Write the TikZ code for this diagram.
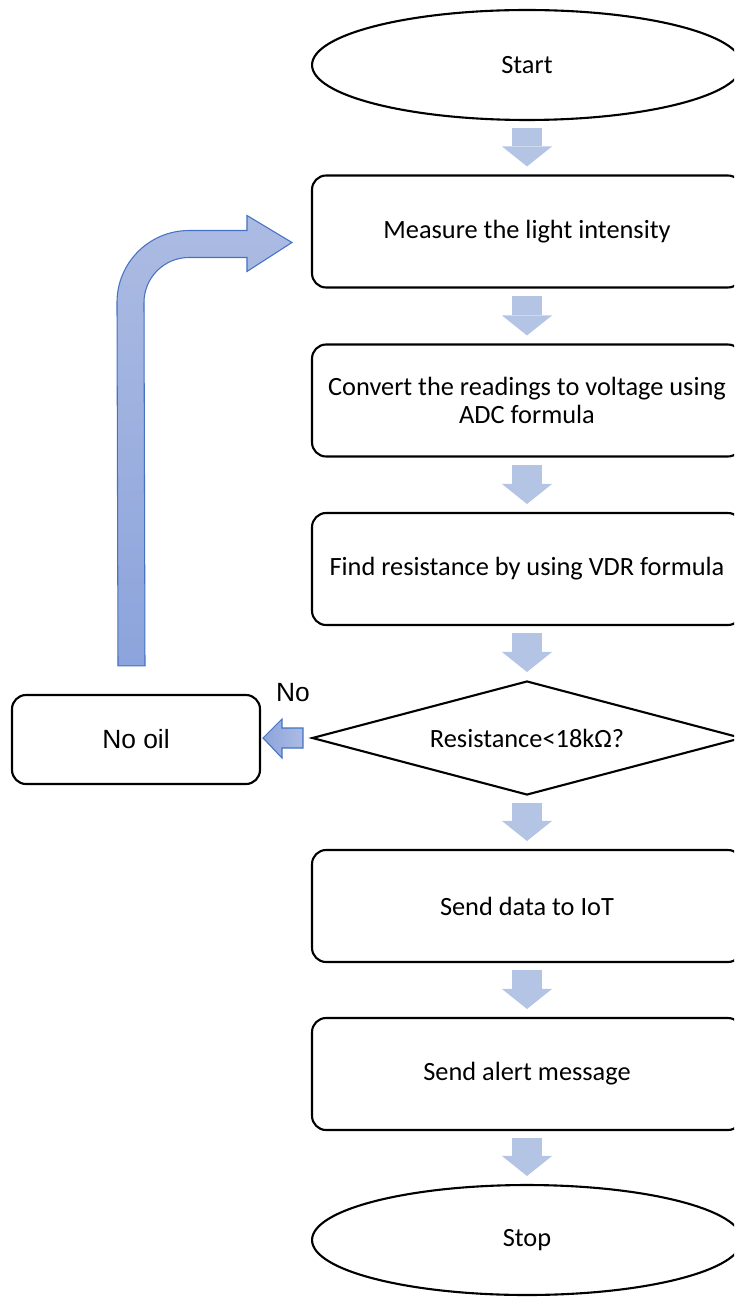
\documentclass[tikz,border=0pt]{standalone}
\usepackage{fontspec}
\setmainfont{Carlito}
\newfontfamily\arialfont{Liberation Sans}
\usetikzlibrary{shapes.geometric,arrows.meta,calc}

\definecolor{arrowblue}{RGB}{180,196,228}
\definecolor{bendtop}{RGB}{172,187,226}
\definecolor{bendbot}{RGB}{140,164,220}
\definecolor{bendline}{RGB}{68,114,196}

\tikzset{
  boxtext/.style={font=\fontsize{15}{15.5}\selectfont},
  terminal/.style={ellipse, draw, line width=1.2pt, minimum width=8.6cm, minimum height=2.2cm, inner sep=0pt, boxtext},
  process/.style={rectangle, rounded corners=0.28cm, draw, line width=1.2pt, minimum width=8.6cm, minimum height=2.24cm, align=center, boxtext},
  decision/.style={diamond, draw, line width=1.2pt, aspect=3.77, minimum width=8.6cm, minimum height=2.28cm, inner sep=0pt, boxtext},
  flowarrow/.style={draw=arrowblue, line width=0.6cm, -{Triangle[length=0.4cm, width=1cm, line width=0pt]}},
  bentarrow/.style={top color=bendtop, bottom color=bendbot, draw=bendline, line width=0.6pt},
}

\begin{document}
\begin{tikzpicture}[x=0.02cm, y=-0.02cm]
    \path[use as bounding box, clip] (0,0) rectangle (734,1297);

    \node[terminal] (start) at (527, 65) {Start};
    \node[process] (measure) at (527, 231.5) {Measure the light intensity};
    \node[process] (convert) at (527, 400.5) {Convert the readings to voltage using\\ADC formula};
    \node[process] (findres) at (527, 569) {Find resistance by using VDR formula};
    \node[decision] (decide) at (527, 738) {Resistance<18kΩ?};
    \node[process] (senddata) at (527, 906) {Send data to IoT};
    \node[process] (alert) at (527, 1074) {Send alert message};
    \node[terminal] (stop) at (527, 1240) {Stop};

    \node[rectangle, rounded corners=0.28cm, draw, line width=1.2pt, minimum width=4.96cm, minimum height=1.78cm,
          font=\arialfont\fontsize{15}{16}\selectfont] (noil) at (136, 739.5) {No oil};
    \node[font=\arialfont\fontsize{15}{16}\selectfont] (nolabel) at (293, 693) {No};

    % down arrows
    \foreach \a/\b in {start/measure, measure/convert, convert/findres, findres/decide,
                       decide/senddata, senddata/alert, alert/stop}
        \draw[flowarrow] ([yshift=-0.14cm]\a.south) -- ([yshift=0.16cm]\b.north);

    % no branch
    \shadedraw[left color=bendbot, right color=bendtop, draw=bendline, line width=0.6pt]
        ($(decide.west)+(-8,-10)$) -- ++(-21,0) -- ++(0,-9) -- ++(-19,19) -- ++(19,20)
        -- ++(0,-10) -- ++(21,0) -- cycle;

    % back to measuring
    \coordinate (foot) at ($(noil.north)+(-4,-28)$);
    \coordinate (tip) at ($(measure.west)+(-19,11)$);
    \shadedraw[bentarrow] ($(foot)+(-14,0)$) -- ($(tip)+(-175,60)$)
        arc[start angle=180, end angle=90, radius=1.44cm]
        -- ($(tip)+(-45,-12)$) -- ($(tip)+(-45,-27)$) -- (tip)
        -- ($(tip)+(-45,29)$) -- ($(tip)+(-45,15)$) -- ($(tip)+(-103,15)$)
        arc[start angle=90, end angle=180, radius=0.9cm]
        -- ($(foot)+(13,0)$) -- cycle;
\end{tikzpicture}
\end{document}
